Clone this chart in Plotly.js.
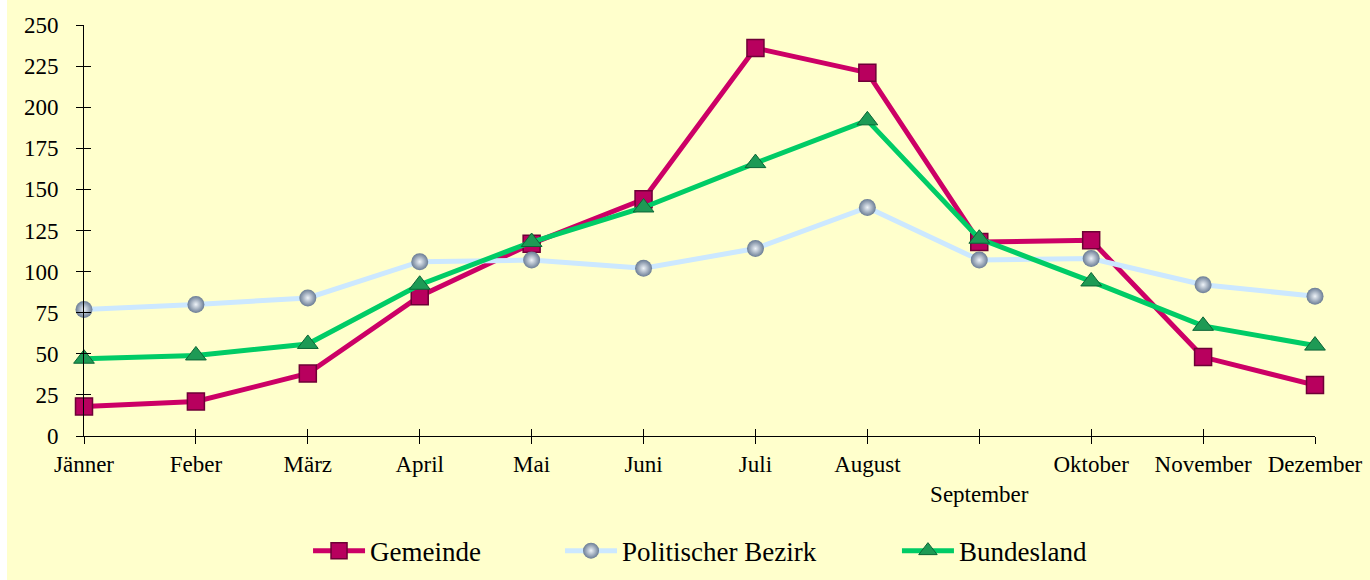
<!DOCTYPE html>
<html>
<head>
<meta charset="utf-8">
<script src="https://cdn.plot.ly/plotly-3.0.1.min.js"></script>
<style>
  html, body { margin: 0; padding: 0; background: #ffffff; }
  #chart { width: 1370px; height: 580px; }
</style>
</head>
<body>
<div id="chart"></div>
<script>
const months = ["Jänner","Feber","März","April","Mai","Juni","Juli","August","September","Oktober","November","Dezember"];
const monthLabels = ["Jänner","Feber","März","April","Mai","Juni","Juli","August","<br>September","Oktober","November","Dezember"];
const gemeinde = [18, 21, 38, 85, 117, 144, 236, 221, 118, 119, 48, 31];
const bezirk   = [77, 80, 84, 106, 107, 102, 114, 139, 107, 108, 92, 85];
const bundesland = [47, 49, 56, 92, 118, 139, 166, 192, 120, 94, 67, 55];
const yTicks = [0, 25, 50, 75, 100, 125, 150, 175, 200, 225, 250];

const idx = months.map((m, i) => i);
const font = {family: "'Liberation Serif', 'Times New Roman', serif", size: 23, color: "#000000"};
const legendFont = {family: "'Liberation Serif', 'Times New Roman', serif", size: 27, color: "#000000"};

const traces = [
  {
    x: idx, y: gemeinde, name: "Gemeinde", type: "scatter", mode: "lines+markers",
    line: {color: "#CC0066", width: 5},
    marker: {symbol: "square", size: 17, color: "#B8005E", line: {color: "#6E0036", width: 1.5}},
    cliponaxis: false, legend: "legend"
  },
  {
    x: idx, y: bezirk, name: "Politischer Bezirk", type: "scatter", mode: "lines+markers",
    line: {color: "#CCE8FF", width: 5},
    marker: {symbol: "circle", size: 17, color: "#6A7C94", gradient: {type: "radial", color: "#EEF3F8"}, line: {width: 0}},
    cliponaxis: false, legend: "legend2"
  },
  {
    x: idx, y: bundesland, name: "Bundesland", type: "scatter", mode: "lines+markers",
    line: {color: "#00CC66", width: 5},
    marker: {symbol: "triangle-up", size: 18, color: "#1E9A55", line: {color: "#0B6535", width: 1}},
    cliponaxis: false, legend: "legend3"
  },
  {
    x: [0, 11], y: [0, 0], xaxis: "x2", yaxis: "y2", mode: "lines",
    line: {width: 0, color: "rgba(0,0,0,0)"}, showlegend: false, hoverinfo: "skip"
  }
];

const legendBase = {
  orientation: "h", yanchor: "middle", xanchor: "left", y: -0.28,
  bgcolor: "rgba(0,0,0,0)", font: legendFont, itemwidth: 52
};

const layout = {
  width: 1370, height: 580,
  margin: {l: 84, r: 55, t: 25, b: 144, autoexpand: false},
  paper_bgcolor: "#FFFFCC",
  plot_bgcolor: "#FFFFCC",
  font: font,
  xaxis: {
    range: [0, 11], tickmode: "array", tickvals: idx, ticktext: monthLabels,
    showgrid: false, zeroline: false, showline: true, linecolor: "#000000", linewidth: 1,
    ticks: "outside", ticklen: 7, tickcolor: "#000000", tickfont: font, fixedrange: true,
    ticklabelstandoff: 0, automargin: false
  },
  yaxis: {
    range: [0, 250], tickmode: "array", tickvals: yTicks,
    showgrid: false, zeroline: false, showline: true, linecolor: "#000000", linewidth: 1,
    ticks: "outside", ticklen: 7, tickcolor: "#000000", tickfont: font, fixedrange: true,
    ticklabelstandoff: 13, automargin: false
  },
  xaxis2: {
    overlaying: "x", anchor: "y", range: [0, 11], tickmode: "array", tickvals: idx,
    showticklabels: false, showgrid: false, zeroline: false, showline: false,
    ticks: "inside", ticklen: 7, tickcolor: "#000000", side: "bottom"
  },
  yaxis2: {
    overlaying: "y", anchor: "x", range: [0, 250], tickmode: "array", tickvals: yTicks,
    showticklabels: false, showgrid: false, zeroline: false, showline: false,
    ticks: "inside", ticklen: 7, tickcolor: "#000000", side: "left"
  },
  legend: Object.assign({}, legendBase, {x: 0.182}),
  legend2: Object.assign({}, legendBase, {x: 0.3867}),
  legend3: Object.assign({}, legendBase, {x: 0.6604}),
  shapes: [
    {type: "rect", xref: "paper", yref: "paper", x0: -84/1231, x1: -77/1231, y0: -144/411, y1: 436/411,
     fillcolor: "#FFFFFF", line: {width: 0}, layer: "below"}
  ],
  showlegend: true
};

Plotly.newPlot("chart", traces, layout, {displayModeBar: false, staticPlot: true});
</script>
</body>
</html>
